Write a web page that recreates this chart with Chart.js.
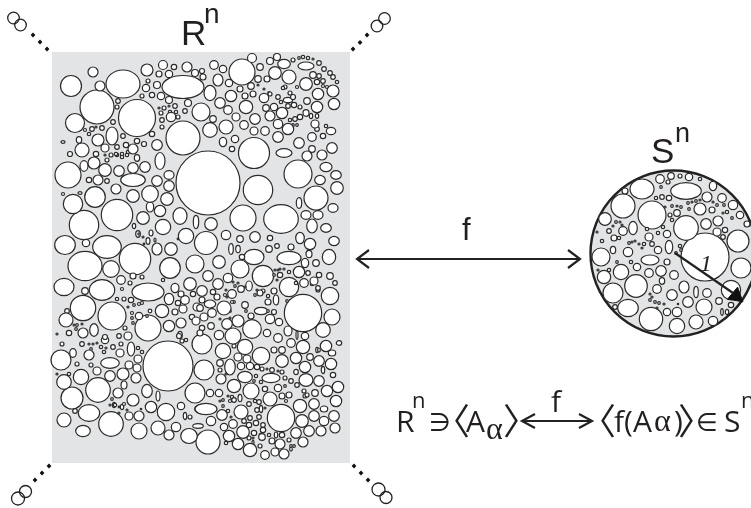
<!DOCTYPE html>
<html><head><meta charset="utf-8">
<style>html,body{margin:0;padding:0;background:#fff;overflow:hidden}canvas{display:block}</style>
<script src="https://cdn.jsdelivr.net/npm/chart.js@4"></script></head>
<body><canvas id="c" width="751" height="508"></canvas>
<script>
// Region R^n: round cells [x,y,r]
const rnBigCells=[[208,183,32],[168,366,25],[303,313,18.7],[137,118,18.5],[97,107,17],[183,138,17],[281,418,13.7],[117,215,15.7],[84,225,14.7],[135,259,15.7],[258,190,14.7],[298,174,14],[242,72,13],[243,218,13],[68,175,13],[148,328,13],[83,308,12.7],[112,316,14],[316,198,12],[111,424,12.3],[98,390,12.3],[206,243,11.5],[208,442,12],[72,398,11],[263,276,10.7],[71,86,10.5],[95,197,10.3],[170,268,10.3],[61,360,10],[204,370,10],[195,393,10],[73,204,9.7],[289,287,9.7],[202,344,10],[252,329,9.3],[254,153,15.5]];
const rnMidCells=[[201,112,9],[195,264,9],[240,269,9],[75,123,9.5],[330,296,8.7],[166,412,8.7],[261,356,8.7],[150,194,8.3],[111,269,8.3],[139,431,8],[332,317,8],[233,336,8],[251,391,8],[163,227,7.7],[186,236,7.7],[81,377,7.7],[223,351,7.7],[245,347,7.7],[210,130,7.3],[64,382,7.3],[323,330,7.3],[226,127,7],[289,77,7],[82,150,7],[224,308,7],[270,399,7],[241,412,7],[66,320,7],[64,420,7],[158,428,7],[238,321,6],[275,73,6.3],[306,84,6.3],[337,188,6.3],[133,196,6.3],[167,199,6.3],[171,249,6.3],[190,284,6.3],[219,262,6.3],[299,272,5.7],[211,224,6.3],[147,70,6],[98,140,6],[94,163,6],[333,91,6],[123,374,6],[326,346,5.7],[133,400,6],[105,170,6.3],[303,347,6.7],[214,65,4.3],[246,107,6.7],[162,311,6.7],[300,406,6.7],[234,386,6.7],[250,450,6.7],[157,145,5.3],[318,94,5.7],[334,104,5.7],[317,107,5.7],[282,113,5.7],[288,129,5.7],[231,96,5.7],[310,244,5.7],[160,211,5.7],[169,326,5.7],[151,407,5.7],[338,387,5.7],[327,391,5.7],[336,401,5.7],[331,364,5.7],[296,358,5.7],[305,367,5.7],[229,436,5.7],[238,444,5.7],[282,361,6.3],[143,218,6.3],[302,421,6.3],[243,432,6.3],[119,171,5.3],[133,168,5.3],[145,167,5.3],[278,137,5.3],[299,143,5.3],[255,119,5.3],[220,103,5.3],[332,148,5.3],[255,237,5.3],[226,235,4.7],[208,276,5.3],[218,284,5.3],[227,324,5.3],[110,376,5.3],[118,393,5],[136,378,5],[319,361,5.3],[319,381,5.3],[314,404,5.3],[222,415,5.3],[334,416,5.3],[314,416,5.3],[309,431,5.3],[296,433,5.3],[139,416,5],[187,67,5],[98,180,5],[157,181,5.3],[169,186,5.3],[116,189,5],[100,86,5],[93,72,5],[133,149,5],[121,280,4.3],[89,355,5],[83,333,5],[322,155,5],[307,156,5],[270,116,5],[278,124,4.7],[169,435,5],[176,427,4.7],[202,291,5.3],[221,379,5],[335,428,5],[321,431,5],[303,442,5],[280,444,5],[284,454,5],[270,319,4.7],[181,323,5]];
const rnSmallCells=[[163,65,4.5],[252,58,4.5],[228,110,4.3],[264,98,4.7],[265,131,4.3],[244,125,4.3],[312,137,4.3],[185,300,4.3],[183,309,4],[232,294,4.3],[212,313,4.3],[228,278,4.7],[304,283,4.3],[291,343,4.3],[278,338,4.3],[265,455,4.3],[233,424,4.3],[275,452,4],[324,421,4.7],[211,421,4.7],[105,148,4],[315,124,4],[254,131,4],[236,117,4],[161,96,3.7],[169,74,3.7],[146,88,3.7],[274,107,3.7],[223,69,3.7],[229,83,3.7],[235,139,3.7],[157,85,3.5],[195,73,3.5],[188,103,3.5],[169,100,3.5],[270,61,3.5],[277,57,3.5],[260,67,3.3],[266,108,3.3],[307,101,3.3],[313,75,3.3],[312,149,3.3],[258,79,3.3],[251,86,3.3],[213,119,3.3],[269,249,3.3],[240,239,3.3],[330,276,3.3],[316,263,3.3],[314,281,4],[245,305,3.3],[241,289,3.3],[175,312,3],[204,317,4],[197,307,4],[181,294,3],[193,294,2.7],[202,300,3],[178,303,2.7],[192,317,2.7],[196,321,4],[202,328,2.7],[129,416,4],[120,353,4],[128,336,4],[138,359,4],[129,365,4],[137,368,4],[97,371,4],[238,357,4],[247,359,4],[241,366,3.7],[250,366,3.7],[278,388,3.7],[210,393,3.7],[219,393,3.7],[315,393,3.3],[220,363,3.3],[310,357,3.3],[181,406,3.7],[224,427,3.7],[262,437,3.3],[86,243,3.7],[85,291,3.3],[105,340,3.7],[139,316,3.7],[305,336,3.7],[267,333,3.7],[219,335,4.7],[279,322,3.7],[211,326,3.3],[200,308,3.3],[133,276,3],[245,96,3],[253,94,3],[240,89,3],[267,79,3],[232,149,2.7],[174,67,2.7],[202,71,2.5],[203,77,3],[159,74,3],[152,95,2.7],[152,134,2.7],[137,141,2.7],[144,144,2.5],[123,136,2.3],[113,122,2.3],[102,128,2.3],[92,129,2.3],[96,154,2.7],[70,154,2.5],[89,180,2.7],[107,181,2.3],[242,257,2.7],[270,238,2.7],[277,246,2.3],[291,247,3],[308,273,2.3],[280,275,2.7],[319,275,2.7],[335,283,2.3],[318,288,2.3],[260,293,3],[274,291,3],[217,297,3],[213,292,2.7],[225,295,1.5],[268,302,3],[251,316,3],[244,421,2.3],[256,423,2.7],[272,441,3],[282,396,3],[289,395,3],[274,350,3],[282,350,3.3],[69,333,2.7],[105,337,2.5],[119,336,2.3],[82,344,2.3],[113,347,2.3],[121,344,2],[62,344,2],[131,300,2.7],[124,299,2],[117,299,1.7],[142,277,2],[130,283,2],[163,280,1.7],[77,364,2],[91,365,2],[122,289,1.5],[67,311,2.3],[75,411,2.3],[190,417,2],[200,333,3],[179,336,2.5],[182,341,2],[186,340,1.7],[234,346,2],[148,81,2],[142,96,2],[118,101,2.3],[117,107,2],[333,375,2.7],[282,372,2],[285,378,2],[307,395,2],[304,391,2],[297,385,2.3],[291,381,2.3]];
const rnTinyCells=[[164,108,2],[159,108,1],[169,106,1],[175,106,2.3],[161,113,2],[170,112,1.7],[176,112,1.7],[185,111,2.3],[162,120,2.3],[171,117,4.7],[178,117,2],[162,127,2],[85,130,1.5],[89,134,1.7],[96,127,1],[117,147,2.3],[126,145,2.7],[122,154,1.7],[128,152,1.7],[117,155,1.7],[122,157,1.7],[127,155,1.7],[111,155,2],[105,155,1],[116,154,1.7],[107,160,2],[258,85,1],[264,89,1],[269,93,1.3],[278,97,2.3],[270,94,2],[281,102,1.7],[294,105,2.7],[300,107,2],[288,106,2.3],[290,93,2],[285,87,2],[283,88,1.7],[297,87,1.5],[293,97,2.5],[293,60,2],[299,58,1.3],[303,57,1.7],[308,58,1.7],[313,59,1],[319,63,2.3],[324,69,2.3],[330,73,2.3],[333,77,2.3],[337,82,1.7],[319,76,2.3],[323,81,2.3],[317,82,2.7],[323,86,1.5],[327,87,1.5],[300,117,2.7],[295,119,2.3],[290,120,1.7],[293,125,1.3],[297,125,1.3],[326,126,1.7],[317,129,2.3],[323,136,2.7],[275,270,1],[278,270,1],[280,269,1],[284,269,1],[289,272,1.7],[277,280,1],[274,275,1.3],[296,283,1.7],[312,284,1.7],[318,290,2],[233,282,1],[238,283,1],[245,287,1],[234,302,1.3],[246,311,1.3],[268,311,1.3],[274,312,2.5],[230,311,1.3],[220,319,1],[230,318,1],[255,295,1.3],[268,296,1.7],[257,290,1],[263,291,2],[287,301,1.3],[232,302,1.5],[227,297,1],[226,290,1],[235,286,1.3],[139,234,1.2],[143,237,1],[144,244,.8],[178,239,.8],[63,194,1.5],[128,307,1],[134,305,1.3],[139,304,1.5],[142,303,1.5],[150,311,1.8],[132,313,1.5],[132,318,1.3],[147,316,1.3],[133,323,1.3],[77,325,1.3],[74,325,1],[76,329,1.3],[82,324,1],[125,328,2],[57,334,1],[89,344,1],[93,344,1],[97,343,1],[101,347,1.7],[106,348,1],[91,349,1.3],[104,352,1.7],[138,348,1.7],[142,352,1.7],[57,374,1],[69,374,1.7],[112,399,1.3],[115,405,1.7],[110,405,1],[124,404,1.5],[127,410,1],[119,407,.8],[119,413,1],[141,409,.7],[220,354,1],[226,374,1],[220,370,2],[257,367,2.7],[262,369,2],[267,369,1],[272,370,2.3],[278,371,1],[256,376,1.7],[254,381,1.3],[261,382,1.7],[285,386,1.3],[265,389,2.7],[230,401,1.5],[232,397,1.7],[228,396,1],[234,400,2.3],[223,400,1.3],[220,401,1],[255,401,1.7],[259,402,2.3],[249,404,2.3],[257,410,2.3],[265,408,1],[286,401,1.5],[305,396,2],[223,406,1.3],[228,411,1.7],[231,417,1],[259,417,2.3],[250,418,2.3],[249,425,2.7],[263,425,2.3],[253,438,1],[249,438,2],[263,430,2.7],[254,433,2.7],[269,435,1.7],[282,435,2.7],[289,440,2],[226,443,1.7],[260,446,2],[291,446,1.3],[294,446,1.3]];
// Region R^n: oval cells [x,y,rx,ry]
const rnOvals=[[123,84,17,14],[183,87,21,11.5],[84,166,4,5.3],[112,136,6,9],[79,140,2.7,3.3],[63,142,2,1.3],[160,161,5,8.5],[137,158,2.7,3.3],[284,64,6.3,4.7],[306,66,8,4],[218,80,5,6],[210,93,6,7.7],[288,100,4.7,2.7],[223,142,3.7,4.7],[331,131,4.7,3.7],[284,153,8,4.3],[133,180,12.3,6.5],[169,175,5,4.3],[80,193,2,1.3],[150,207,3.7,5],[180,216,7,8.3],[196,222,2.7,6.7],[134,226,1.7,2.7],[138,234,2.3,3.3],[151,233,2,3],[148,241,2,3.3],[155,240,1,2],[65,245,10.3,9.5],[107,247,14.3,11.3],[157,249,5,6],[85,266,17,14.7],[64,287,10,8.7],[102,290,12.7,10.3],[148,292,16,9],[175,288,4,4.7],[169,299,4.7,5.7],[94,330,4.3,6.3],[326,167,6,4.7],[336,175,5.3,4.3],[320,180,5.3,4.7],[299,203,2.7,5.3],[333,208,5,4.3],[306,215,5,4.3],[318,215,5,4.3],[281,219,17.3,14.3],[312,226,5.3,7],[326,228,5.3,4.3],[300,238,4.3,5.7],[334,241,5.3,4.7],[231,249,2.3,5.3],[238,249,2.3,3.7],[254,257,10,7.7],[289,258,12,6.7],[309,254,3,3.7],[329,257,6.7,7.7],[305,263,3.7,4.7],[249,286,3.3,5],[276,300,2.7,5],[210,304,5.7,4],[261,311,6.7,3.7],[288,331,4,5],[306,113,3,3.3],[311,116,1.7,2.7],[317,116,1.7,2.3],[73,353,3.3,4.3],[131,349,3.7,7],[110,363,9.3,5.3],[124,385,3,4],[147,391,5.3,6.7],[158,396,2,5],[89,413,10.7,8.3],[203,409,8.3,5],[185,416,1.7,3.7],[198,426,5.3,2.3],[83,431,7.3,5.7],[189,436,8.3,7.5],[180,335,2.3,3.7],[297,335,1,4.3],[339,343,2.7,2.3],[317,350,1.3,2.7],[319,350,1.3,2],[332,353,3.7,3],[230,367,5.3,8],[323,370,1.7,3.7],[245,377,7.3,5.7],[271,378,9,4.7],[306,380,7,6.3],[240,398,2,3.7],[206,409,11,5.7],[324,409,3.7,3],[261,436,1.7,3],[276,435,1.7,3],[253,443,1,2.7],[291,449,1.3,2],[261,409,1.7,3.7],[296,372,2.3,2.7],[114,405,1.7,2.7],[122,407,1.7,2.7]];
// Region S^n: cells
const snCells=[[705,257,24],[738,241,11],[741,268,10],[731,290,9.7],[623,206,12],[652,215,14],[686,228,12.3],[636,286,11.3],[651,319,11.7],[613,293,10],[601,257,9],[704,307,8],[677,326,7.7],[621,272,7.7],[696,322,7],[604,277,6.7],[605,219,6.3],[700,209,6],[672,295,5.3],[688,302,5.3],[706,224,5.3],[661,271,5.3],[718,221,5],[707,197,5],[733,205,4.7],[713,321,4.7],[677,312,4.7],[628,252,4.7],[660,179,4.3],[722,198,4.3],[623,231,4.3],[674,275,4.3],[657,289,4.3],[649,273,4.3],[707,293,4.3],[717,232,4],[649,237,4],[671,176,3.3],[689,177,3.7],[740,215,3.7],[667,234,3.7],[658,250,3.7],[637,267,3.7],[667,312,3.7],[677,213,3.3],[719,301,3.3],[625,191,3],[712,210,3],[747,224,3],[614,238,3],[667,262,3],[680,176,2],[609,231,2.3],[615,307,2.3],[731,305,2.7],[725,230,2.7],[723,237,2.3],[662,197,2.3],[669,198,2.7],[656,198,1.7],[647,229,1.7],[658,233,1.7],[663,227,1.7],[670,215,2],[672,220,1.7],[700,179,1.7],[668,182,2],[661,187,1.3],[665,207,1],[672,206,1.3],[677,206,1],[681,207,1.3],[689,209,1.3],[692,202,1],[696,201,1.3],[700,200,1],[688,203,1.3],[713,202,1],[717,205,1.3],[724,205,1.3],[727,212,1.7],[723,213,1],[732,218,1.3],[619,238,1.7],[602,241,1.7],[597,232,1],[616,222,1.3],[620,222,1],[622,225,1],[613,226,1],[629,243,1.3],[632,242,1],[635,241,1],[639,244,1],[642,248,1],[644,244,1.7],[652,244,2.3],[631,262,1.7],[617,262,1.3],[598,270,1],[609,270,1.7],[680,246,1.7],[681,250,1.3],[676,253,1.3],[650,294,1],[650,300,1.3],[655,302,1.3],[659,303,1.3],[664,304,1],[652,297,1],[657,308,1],[678,304,.7]];
const snOvals=[[642,189,12,10],[686,191,15.3,8.3],[713,186,3.7,4.7],[633,228,4.3,6.7],[669,247,3.7,6.7],[650,260,9,5],[613,250,2.7,3.7],[628,308,10.3,8.7],[684,287,5,6],[696,292,2.3,5.7],[662,281,2.7,3.3],[722,312,1.3,3.3],[727,312,1.7,2.7]];
const disc=[[673.5,253.5,83]];
const infinity=[[13.5,18,5.8],[20.5,25,5.8],[384.5,18.5,5.8],[377,26,5.8],[25.5,491.5,6],[18,498.5,6.5],[378.5,489.5,6.5],[386,497.5,6]];
const dots=[[33,35],[40,42],[47,49],[353,49],[360,42.5],[367,35],[49,466],[42,473],[35,480],[354,466],[361,473],[368,480]];
const panelTop=[[52,52],[350,52]];
const panelBottom=463;
const arrowF=[[369,250],[357,259],[369,268],null,[357,259],[580,259],null,[568,250],[580,259],[568,268]];
const arrowEq=[[535,414],[522,421],[535,428],null,[522,421],[592,421],null,[579,414],[592,421],[579,428]];
const radius=[[675,253],[733,293]];
const radiusTip=[[736,296]];
const labels=["R","n","S","n","f","1","R","n","∋","〈","A","α","〉","f","〈","f(A","α",")","〉","∈","S","n"];
const bracketFont='36px "Noto Sans CJK JP"';
const labelSpots=[[181,45,'35px "Liberation Sans"'],[204,23,'28px "Liberation Sans"'],[651,163,'35px "Liberation Sans"'],[675,142,'27px "Liberation Sans"'],[462,240,'31px "Liberation Sans"'],[700,271,'italic 24px "Liberation Serif"'],[396,432,'30px "Open Sans"'],[412,408,'22px "Open Sans"'],[429,431,'25px "DejaVu Sans"'],[434,435,bracketFont],[466,432,'30px "Open Sans"'],[486,439,'32px "Liberation Serif"'],[503,435,bracketFont],[551,412,'30px "Open Sans"'],[580,435,bracketFont],[614,432,'30px "Open Sans"'],[654,431,'32px "Liberation Serif"'],[674,432,'30px "Open Sans"'],[678,435,bracketFont],[696,431,'25px "DejaVu Sans"'],[724,432,'30px "Open Sans"'],[741,408,'22px "Open Sans"']];

const ink='#2b2b2b';
const toPts=a=>a.map(p=>p?{x:p[0],y:p[1]}:{x:null,y:null});
const toBub=a=>a.map(p=>({x:p[0],y:p[1],r:p[2]}));
const toOval=a=>a.map(p=>({x:p[0],y:p[1],rx:p[2],ry:p[3]}));
const ovalCache={};
const evenUp=n=>{const v=Math.ceil(n);return v%2?v+1:v;};
function ovalStyle(c){
  const d=c.raw; if(!d) return 'circle';
  const k=d.rx+'_'+d.ry; if(ovalCache[k]) return ovalCache[k];
  const cv=document.createElement('canvas');
  cv.width=evenUp(d.rx*2+3); cv.height=evenUp(d.ry*2+3);
  const g=cv.getContext('2d');
  g.beginPath(); g.ellipse(cv.width/2,cv.height/2,d.rx,d.ry,0,0,Math.PI*2);
  g.fillStyle='#fff'; g.fill(); g.strokeStyle=ink; g.lineWidth=1.2; g.stroke();
  return ovalCache[k]=cv;
}
const cells=(data,order)=>({type:'bubble',data:toBub(data),backgroundColor:'#fff',borderColor:ink,borderWidth:1.2,order});
const ovals=(data,order)=>({type:'scatter',data:toOval(data),pointStyle:ovalStyle,order,showLine:false});
const polyline=(data,w)=>({type:'line',data:toPts(data),borderColor:'#222',borderWidth:w,pointRadius:0,fill:false,tension:0,spanGaps:false,order:0});
const textPlugin={id:'texts',afterDraw(ch){
  const g=ch.ctx,sx=ch.scales.x,sy=ch.scales.y;
  g.save(); g.fillStyle='#231f20'; g.textAlign='left'; g.textBaseline='alphabetic';
  labels.forEach((t,i)=>{const s=labelSpots[i]; g.font=s[2]; g.fillText(t,sx.getPixelForValue(s[0]),sy.getPixelForValue(s[1]));});
  g.restore();
}};
new Chart(document.getElementById('c'),{
  type:'bubble',
  data:{datasets:[
    polyline(arrowF,2.2),polyline(arrowEq,2.2),polyline(radius,2.2),
    {type:'scatter',data:toPts(radiusTip),pointStyle:'triangle',pointRadius:9,rotation:130,backgroundColor:'#111',borderColor:'#111',order:0},
    {type:'scatter',data:toPts(dots),pointStyle:'rectRot',pointRadius:2.4,backgroundColor:'#111',borderColor:'#111',borderWidth:0,order:0},
    {type:'bubble',data:toBub(infinity),backgroundColor:'rgba(0,0,0,0)',borderColor:'#222',borderWidth:1.3,order:0},
    cells(rnBigCells,3),cells(rnMidCells,2),cells(rnSmallCells,2),cells(rnTinyCells,2),ovals(rnOvals,2),
    cells(snCells,2),ovals(snOvals,2),
    {type:'bubble',data:toBub(disc),backgroundColor:'#e3e4e6',borderColor:'#222',borderWidth:2.4,order:5},
    {type:'line',data:toPts(panelTop),borderWidth:0,pointRadius:0,backgroundColor:'#e3e4e6',fill:{value:panelBottom},order:9}
  ]},
  options:{responsive:false,animation:false,devicePixelRatio:1,layout:{padding:0,autoPadding:false},events:[],
    plugins:{legend:{display:false},tooltip:{enabled:false}},
    scales:{
      x:{type:'linear',display:false,min:0,max:751,offset:false},
      y:{type:'linear',display:false,min:0,max:508,reverse:true,offset:false}}},
  plugins:[textPlugin]
});
</script></body></html>
